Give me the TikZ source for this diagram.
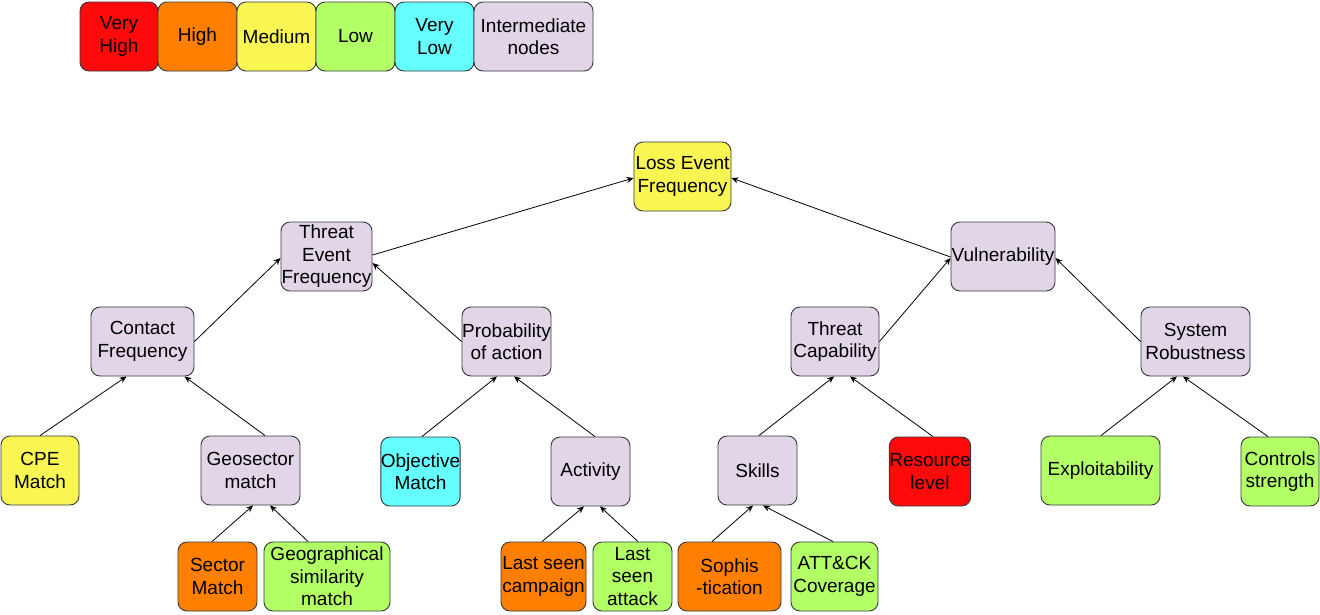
\documentclass[tikz,border=0pt]{standalone}
\usepackage{fontspec}
\setmainfont{Liberation Sans}
\usetikzlibrary{arrows.meta}
\definecolor{cvh}{HTML}{FF0A0A}
\definecolor{chigh}{HTML}{FF8000}
\definecolor{cmed}{HTML}{F9F653}
\definecolor{clow}{HTML}{B3FF66}
\definecolor{cvlow}{HTML}{66FFFF}
\definecolor{cint}{HTML}{E1D5E7}
\definecolor{cborder}{HTML}{36393D}
\begin{document}
\begin{tikzpicture}[x=1pt,y=-1pt,
  box/.style={draw=cborder, line width=0.9pt, rounded corners=9pt, align=center,
    inner sep=0pt, minimum height=69pt, font=\fontsize{19}{22.5}\selectfont},
  vh/.style={box, fill=cvh},
  hi/.style={box, fill=chigh},
  me/.style={box, fill=cmed},
  lo/.style={box, fill=clow},
  vl/.style={box, fill=cvlow},
  im/.style={box, fill=cint},
  conn/.style={draw=black, line width=0.8pt, -{Stealth[length=7pt,width=6pt]}}]
\useasboundingbox (0,0) rectangle (1320,614);
% legend
\node[vh, minimum width=78pt] (lvh) at (119,36.5) {Very\\High};
\node[hi, minimum width=79pt] (lhi) at (197.5,36.5) {High};
\node[me, minimum width=79pt] (lme) at (276.5,36.5) {Medium};
\node[lo, minimum width=79pt] (llo) at (355.5,36.5) {Low};
\node[vl, minimum width=79pt] (lvl) at (434.5,36.5) {Very\\Low};
\node[im, minimum width=119pt] (lim) at (533.5,36.5) {Intermediate\\nodes};
% tree
\node[me, minimum width=97pt] (lef) at (682.5,176.5) {Loss Event\\Frequency};
\node[im, minimum width=91pt] (tef) at (326.5,256.5) {Threat\\Event\\Frequency};
\node[im, minimum width=104pt] (vul) at (1003,256.5) {Vulnerability};
\node[im, minimum width=103pt] (con) at (142.5,341.5) {Contact\\Frequency};
\node[im, minimum width=89pt] (pro) at (506.5,341.5) {Probability\\of action};
\node[im, minimum width=88pt] (tca) at (835,341.5) {Threat\\Capability};
\node[im, minimum width=109pt] (sys) at (1195.5,341.5) {System\\Robustness};
\node[me, minimum width=78pt] (cpe) at (40,470.5) {CPE\\Match};
\node[im, minimum width=99pt] (geo) at (250.5,470.5) {Geosector\\match};
\node[vl, minimum width=79pt] (obj) at (420.5,471.5) {Objective\\Match};
\node[im, minimum width=79pt] (act) at (590.5,471.5) {Activity};
\node[im, minimum width=79pt] (ski) at (757.5,470.5) {Skills};
\node[vh, minimum width=78pt] (res) at (930,471.5) {Resource\\level};
\node[lo, minimum width=119pt] (exp) at (1100.5,470.5) {Exploitability};
\node[lo, minimum width=78pt] (ctl) at (1280,471.5) {Controls\\strength};
\node[hi, minimum width=79pt] (sec) at (217.5,576.5) {Sector\\Match};
\node[lo, minimum width=126pt] (gsm) at (327,576.5) {Geographical\\similarity\\match};
\node[hi, minimum width=85pt] (lsc) at (543.5,576.5) {Last seen\\campaign};
\node[lo, minimum width=79pt] (lsa) at (632.5,576.5) {Last\\seen\\attack};
\node[hi, minimum width=103pt] (sop) at (729.5,576.5) {Sophis\\-tication};
\node[lo, minimum width=87pt] (att) at (834.5,576.5) {ATT\&CK\\Coverage};
% connectors
\draw[conn] ([yshift=1.5pt]tef.east) -- ([yshift=-1.5pt]lef.west);
\draw[conn] ([yshift=-0.5pt]vul.west) -- ([yshift=-1.5pt]lef.east);
\draw[conn] (con.east) -- ([yshift=-1.5pt]tef.west);
\draw[conn] (pro.west) -- ([yshift=-6.5pt]tef.east);
\draw[conn] (tca.east) -- ([yshift=-1.5pt]vul.west);
\draw[conn] (sys.west) -- ([yshift=-1.5pt]vul.east);
\draw[conn] (cpe.north) -- ([xshift=-16pt]con.south);
\draw[conn] ([xshift=14.5pt]geo.north) -- ([xshift=42pt]con.south);
\draw[conn] ([xshift=1.5pt]obj.north) -- ([xshift=-9.5pt]pro.south);
\draw[conn] ([xshift=4.5pt]act.north) -- ([xshift=7.5pt]pro.south);
\draw[conn] ([xshift=1.5pt]ski.north) -- ([xshift=-1pt]tca.south);
\draw[conn] ([xshift=3pt]res.north) -- ([xshift=15pt]tca.south);
\draw[conn] ([xshift=0.5pt]exp.north) -- ([xshift=-18.5pt]sys.south);
\draw[conn] ([xshift=-12pt]ctl.north) -- ([xshift=-12.5pt]sys.south);
\draw[conn] ([xshift=-5.5pt]sec.north) -- ([xshift=2.5pt]geo.south);
\draw[conn] ([xshift=-19pt]gsm.north) -- ([xshift=19.5pt]geo.south);
\draw[conn] ([xshift=-1.5pt]lsc.north) -- ([xshift=-6.5pt]act.south);
\draw[conn] ([xshift=5.5pt]lsa.north) -- ([xshift=9.5pt]act.south);
\draw[conn] ([xshift=-17.5pt]sop.north) -- ([xshift=-4.5pt]ski.south);
\draw[conn] ([xshift=-1.5pt]att.north) -- ([xshift=5.5pt]ski.south);
\end{tikzpicture}
\end{document}
